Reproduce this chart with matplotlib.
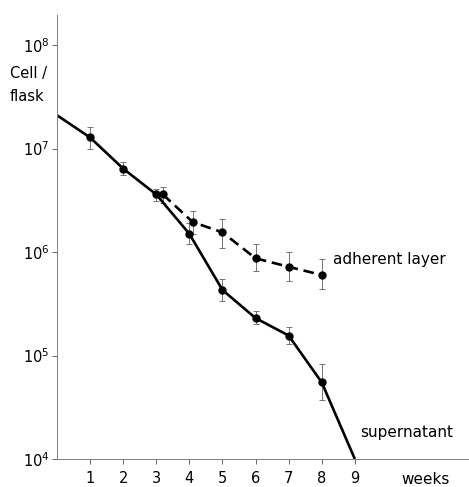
import numpy as np
import matplotlib
matplotlib.use("Agg")
import matplotlib.pyplot as plt

# cells per flask
sup_weeks = [0, 1, 2, 3, 4, 5, 6, 7, 8, 9]
sup_cells = [2.1e7, 1.28e7, 6.4e6, 3.6e6, 1.5e6, 4.3e5, 2.3e5, 1.56e5, 5.5e4, 1.0e4]
sup_lo = [np.nan, 0.98e7, 5.5e6, 3.1e6, 1.2e6, 3.4e5, 2.0e5, 1.3e5, 3.7e4, np.nan]
sup_hi = [np.nan, 1.6e7, 7.4e6, 4.1e6, 1.9e6, 5.5e5, 2.7e5, 1.9e5, 8.3e4, np.nan]

adh_weeks = [3.2, 4.1, 5, 6, 7, 8]
adh_cells = [3.6e6, 1.95e6, 1.55e6, 8.7e5, 7.2e5, 6.0e5]
adh_lo = [3.0e6, 1.5e6, 1.1e6, 6.5e5, 5.3e5, 4.4e5]
adh_hi = [4.3e6, 2.5e6, 2.1e6, 1.2e6, 1.0e6, 8.5e5]

week_ticks = [1, 2, 3, 4, 5, 6, 7, 8, 9]
decades = [1e4, 1e5, 1e6, 1e7, 1e8]
decade_labels = [r"$\mathregular{10^4}$", r"$\mathregular{10^5}$", r"$\mathregular{10^6}$",
                 r"$\mathregular{10^7}$", r"$\mathregular{10^8}$"]

plt.rcParams["font.family"] = "DejaVu Sans"
fig = plt.figure(figsize=(4.69, 4.87), dpi=100)
ax = fig.add_axes([0.1215, 0.0575, 0.8785, 0.9115])

def errs(v, lo, hi):
    v, lo, hi = np.array(v), np.array(lo), np.array(hi)
    return [v - lo, hi - v]

ax.errorbar(sup_weeks, sup_cells, yerr=errs(sup_cells, sup_lo, sup_hi), fmt="none",
            ecolor="0.45", elinewidth=0.7, capsize=2.5, capthick=0.7)
ax.errorbar(adh_weeks, adh_cells, yerr=errs(adh_cells, adh_lo, adh_hi), fmt="none",
            ecolor="0.45", elinewidth=0.7, capsize=2.5, capthick=0.7)

ax.plot(sup_weeks, sup_cells, color="black", lw=1.9, solid_capstyle="butt")
ax.plot(sup_weeks[1:-1], sup_cells[1:-1], "o", color="black", ms=5)
ax.plot(adh_weeks, adh_cells, color="black", lw=1.9, linestyle=(0, (4, 2.2)), marker="o", ms=5)

ax.set_yscale("log")
ax.set_xlim(0, 12.45)
ax.set_ylim(1e4, 10 ** 8.29)
ax.set_yticks(decades)
ax.set_yticklabels(decade_labels)
ax.minorticks_off()
ax.set_xticks(week_ticks)
ax.set_xticklabels([str(w) for w in week_ticks])
ax.tick_params(axis="both", labelsize=10.5, color="0.4", width=0.7, length=3.5)
ax.tick_params(axis="x", pad=5)
ax.tick_params(axis="y", pad=2)

for s in ["top", "right"]:
    ax.spines[s].set_visible(False)
for s in ["left", "bottom"]:
    ax.spines[s].set_color("0.5")
    ax.spines[s].set_linewidth(0.7)

ax.text(8.34, 8.4e5, "adherent layer", fontsize=11, va="center", ha="left")
ax.text(9.15, 1.82e4, "supernatant", fontsize=11, va="center", ha="left")
fig.text(426 / 469, 1 - 479 / 487, "weeks", fontsize=11, ha="center", va="center")
fig.text(10 / 469, 1 - 85 / 487, "Cell /\nflask", fontsize=10.5, ha="left", va="center",
         linespacing=1.7)

fig.savefig("out.png", dpi=100)
